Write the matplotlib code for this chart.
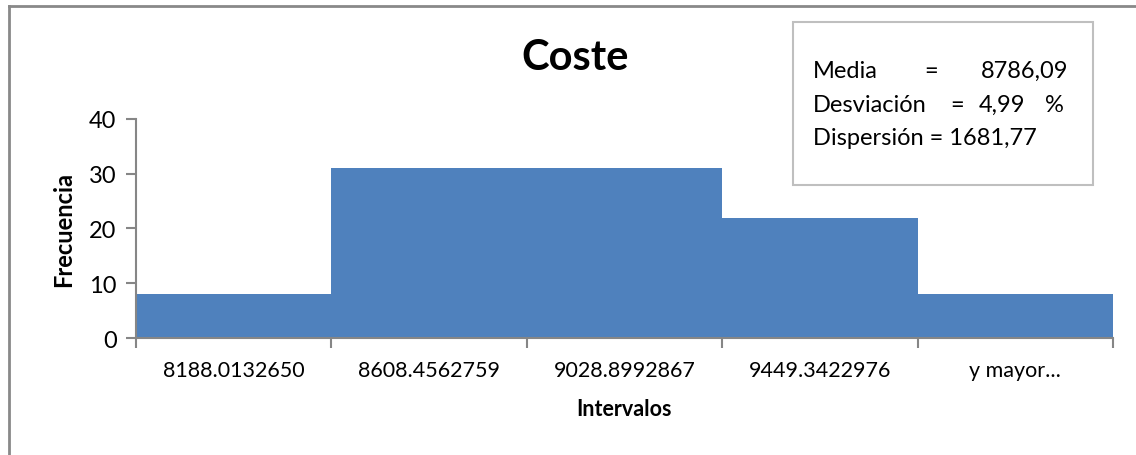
import matplotlib
matplotlib.use("Agg")
import matplotlib.pyplot as plt
from matplotlib.patches import Rectangle
from matplotlib.lines import Line2D

plt.rcParams['font.family'] = ['Lato', 'DejaVu Sans']

intervalos = ["8188.0132650", "8608.4562759", "9028.8992867", "9449.3422976", "y mayor..."]
frecuencia = [8, 31, 31, 22, 8]
media = "8786,09"
desviacion = "4,99"
dispersion = "1681,77"

W, H = 1136, 456
fig = plt.figure(figsize=(W / 100, H / 100), dpi=100)


def fx(px):
    return px / W


def fy(py):
    return 1 - py / H


grey = "#868686"
ax = fig.add_axes([fx(136), fy(339), fx(1113) - fx(136), fy(120) - fy(339)])
x = range(len(frecuencia))
ax.bar(x, frecuencia, width=1.0, color="#4F81BD", linewidth=0)

ax.set_xlim(-0.5, len(frecuencia) - 0.5)
ax.set_ylim(0, 40)
ax.set_yticks([0, 10, 20, 30, 40])
ax.set_xticks([i - 0.5 for i in range(len(frecuencia) + 1)])
ax.set_xticklabels([])
ax.set_xticks(list(x), minor=True)
ax.set_xticklabels(intervalos, minor=True, fontsize=15.5)
ax.tick_params(axis="x", which="minor", length=0, pad=16)
ax.tick_params(axis="x", which="major", length=7, width=1.5, color=grey, direction="out")
ax.tick_params(axis="y", length=7, width=1.5, color=grey, labelsize=17, pad=7)

for s in ["top", "right"]:
    ax.spines[s].set_visible(False)
for s in ["left", "bottom"]:
    ax.spines[s].set_color(grey)
    ax.spines[s].set_linewidth(1.5)

ax.set_xlabel("Intervalos", fontsize=15.5, fontweight="bold", labelpad=13)
ax.set_ylabel("Frecuencia", fontsize=17, fontweight="bold", labelpad=10)

fig.text(fx(575), fy(58), "Coste", fontsize=30, fontweight="bold", ha="center", va="center")

# outer chart border (left and top)
fig.add_artist(Line2D([fx(9), fx(9)], [fy(7), 0], color="#898989", lw=2))
fig.add_artist(Line2D([fx(9), 1], [fy(7), fy(7)], color="#898989", lw=2))

# statistics box
fig.add_artist(Rectangle((fx(793), fy(186)), fx(1093) - fx(793), fy(23) - fy(186),
                         transform=fig.transFigure, fill=False, edgecolor="#BFBFBF", lw=1.5))
fs = 17
fig.text(fx(813), fy(78), "Media", fontsize=fs, va="baseline")
fig.text(fx(931), fy(78), "=", fontsize=fs, va="baseline", ha="center")
fig.text(fx(1068), fy(78), media, fontsize=fs, va="baseline", ha="right")
fig.text(fx(813), fy(112), "Desviación", fontsize=fs, va="baseline")
fig.text(fx(957), fy(112), "=", fontsize=fs, va="baseline", ha="center")
fig.text(fx(979), fy(112), desviacion, fontsize=fs, va="baseline")
fig.text(fx(1064), fy(112), "%", fontsize=fs, va="baseline", ha="right")
fig.text(fx(813), fy(145), "Dispersión = " + dispersion, fontsize=fs, va="baseline")

fig.savefig("out.png", dpi=100)
